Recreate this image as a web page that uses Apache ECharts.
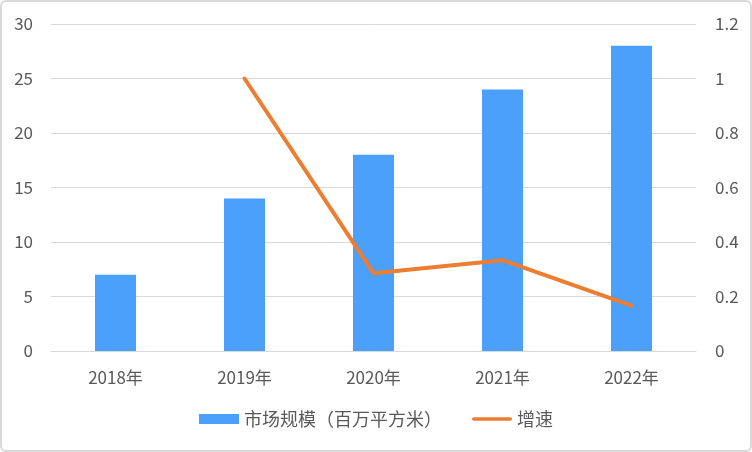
<!DOCTYPE html>
<html>
<head>
<meta charset="utf-8">
<script src="https://cdn.jsdelivr.net/npm/echarts@6/dist/echarts.min.js"></script>
<style>
	html, body { margin: 0; padding: 0; background: #fff; }
	#chart { width: 752px; height: 452px; box-sizing: border-box; border: 2px solid #d9d9d9; border-radius: 6px; }
</style>
</head>
<body>
<div id="chart"></div>
<script>
	// 数据
	var years = ['2018年', '2019年', '2020年', '2021年', '2022年'];
	var scale = [7, 14, 18, 24, 28];
	var growth = [null, 1, 0.2857, 0.3333, 0.1667];
	var leftTicks = { min: 0, max: 30, interval: 5 };
	var rightTicks = { min: 0, max: 1.2, interval: 0.2 };

	var font = '"Noto Sans CJK SC", "Microsoft YaHei", sans-serif';
	var myChart = echarts.init(document.getElementById('chart'));
	var option = {
		animation: false,
		textStyle: { fontFamily: font },
		grid: { left: 49, right: 54, top: 22, bottom: 99 },
		legend: {
			bottom: 17,
			left: 'center',
			itemGap: 30,
			itemWidth: 40,
			itemHeight: 10,
			symbolKeepAspect: true,
			textStyle: { fontSize: 18, color: '#595959', fontFamily: font },
			data: [
				{ name: '市场规模（百万平方米）', icon: 'rect' },
				{ name: '增速', icon: 'path://M2,0 L42,0 A2,2 0 0 1 42,4 L2,4 A2,2 0 0 1 2,0 Z' }
			]
		},
		xAxis: {
			type: 'category',
			data: years,
			axisLine: { lineStyle: { color: '#d9d9d9', width: 1 } },
			axisTick: { show: false },
			axisLabel: { color: '#595959', fontSize: 17, margin: 18, fontFamily: font }
		},
		yAxis: [{
			type: 'value',
			min: leftTicks.min,
			max: leftTicks.max,
			interval: leftTicks.interval,
			axisLine: { show: false },
			axisTick: { show: false },
			axisLabel: { color: '#595959', fontSize: 17, margin: 18, fontFamily: font },
			splitLine: { lineStyle: { color: '#d9d9d9', width: 1 } }
		}, {
			type: 'value',
			min: rightTicks.min,
			max: rightTicks.max,
			interval: rightTicks.interval,
			axisLine: { show: false },
			axisTick: { show: false },
			axisLabel: { color: '#595959', fontSize: 17, margin: 19, fontFamily: font },
			splitLine: { show: false }
		}],
		series: [{
			name: '市场规模（百万平方米）',
			type: 'bar',
			data: scale,
			barWidth: 41,
			itemStyle: { color: '#4aa0fa' }
		}, {
			name: '增速',
			type: 'line',
			yAxisIndex: 1,
			data: growth,
			symbol: 'none',
			lineStyle: { color: '#ed7d31', width: 4, cap: 'round' },
			itemStyle: { color: '#ed7d31' }
		}]
	};
	myChart.setOption(option);
</script>
</body>
</html>
